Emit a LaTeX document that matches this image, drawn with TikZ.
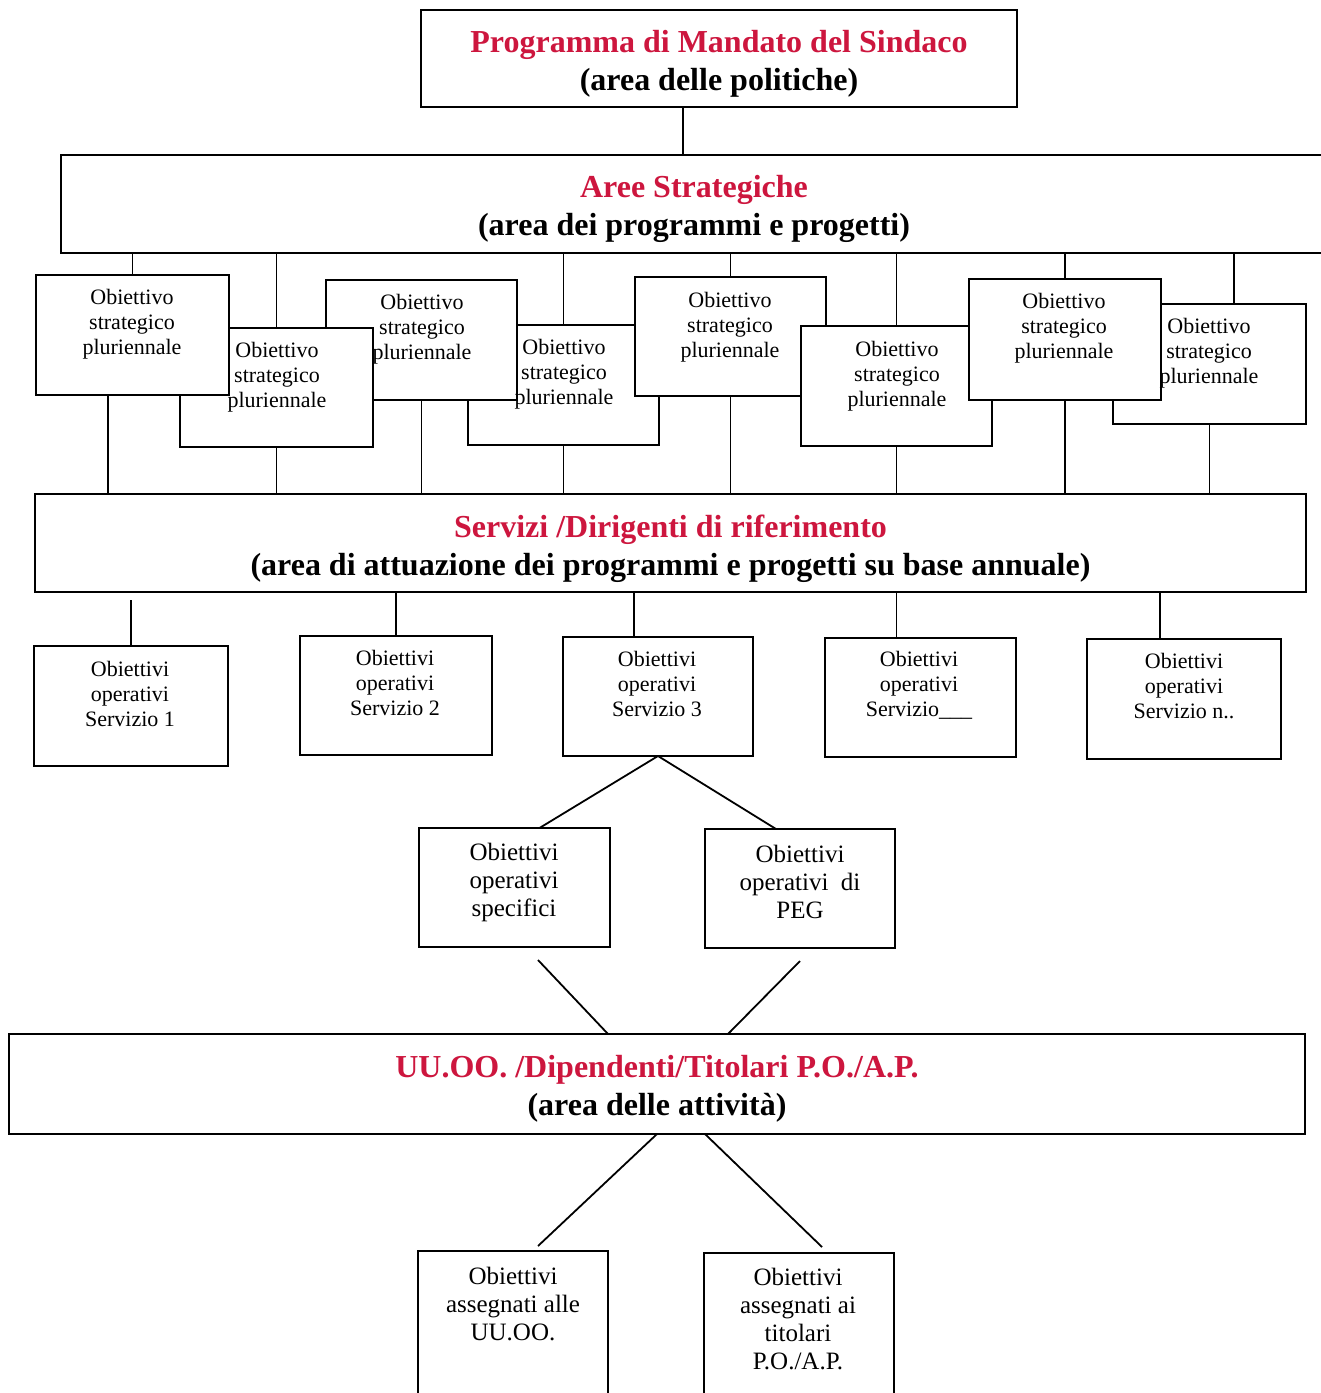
\documentclass[tikz,border=0pt]{standalone}
\usepackage{fontspec}
\setmainfont{Liberation Serif}
\definecolor{hdred}{RGB}{205,22,62}
\newcommand\mkbox[6]{\node[#1, anchor=north west, minimum width={(#5-#3)*0.5pt}, minimum height={(#6-#4)*0.5pt}] (#2) at (#3,#4) {};}
\begin{document}
\begin{tikzpicture}[x=0.5pt,y=-0.5pt,
  bx/.style={draw=black, fill=white, line width=1.2pt, inner sep=0pt, outer sep=0pt},
  hbx/.style={draw=black, fill=white, line width=1.4pt, inner sep=0pt, outer sep=0pt},
  htext/.style={align=center, inner sep=0pt, font=\fontsize{16}{19}\selectfont\bfseries},
  stext/.style={align=center, inner sep=0pt, font=\fontsize{11}{12.5}\selectfont},
  ptext/.style={align=center, inner sep=0pt, font=\fontsize{12.5}{14}\selectfont},
  ln/.style={line width=0.9pt}]
\useasboundingbox (0,0) rectangle (1321,1393);
\clip (0,0) rectangle (1321,1393);
% headers
\mkbox{hbx}{top}{421}{10}{1017}{107}
\mkbox{hbx}{aree}{61}{155}{1327}{253}
\mkbox{hbx}{serv}{35}{494}{1306}{592}
\mkbox{hbx}{uu}{9}{1034}{1305}{1134}
\node[htext] (topt) at ([yshift=-2.5pt]top.center) {\textcolor{hdred}{Programma di Mandato del Sindaco}\\(area delle politiche)};
\node[htext] (areet) at ([yshift=-2.5pt]aree.center) {\textcolor{hdred}{Aree Strategiche}\\(area dei programmi e progetti)};
\node[htext] (servt) at ([yshift=-2.75pt]serv.center) {\textcolor{hdred}{Servizi /Dirigenti di riferimento}\\(area di attuazione dei programmi e progetti su base annuale)};
\node[htext] (uut) at ([yshift=-2.5pt]uu.center) {\textcolor{hdred}{UU.OO. /Dipendenti/Titolari P.O./A.P.}\\(area delle attività)};
\draw[ln] ([xshift=-18pt]top.south) -- ([xshift=-18pt]top.south |- aree.north);
% strategic boxes (drawing order gives the overlaps)
\mkbox{bx}{s4}{468}{325}{659}{445}
\mkbox{bx}{s8}{1113}{304}{1306}{424}
\mkbox{bx}{s3}{326}{280}{517}{400}
\mkbox{bx}{s2}{180}{328}{373}{447}
\mkbox{bx}{s1}{36}{275}{229}{395}
\mkbox{bx}{s5}{635}{277}{826}{396}
\mkbox{bx}{s6}{801}{326}{992}{446}
\mkbox{bx}{s7}{969}{279}{1161}{400}
\node[stext] (s1t) at (132,324) {Obiettivo\\strategico\\pluriennale};
\node[stext] (s2t) at (277,377) {Obiettivo\\strategico\\pluriennale};
\node[stext] (s3t) at (422,329) {Obiettivo\\strategico\\pluriennale};
\node[stext] (s4t) at (564,374) {Obiettivo\\strategico\\pluriennale};
\node[stext] (s5t) at (730,327) {Obiettivo\\strategico\\pluriennale};
\node[stext] (s6t) at (897,376) {Obiettivo\\strategico\\pluriennale};
\node[stext] (s7t) at (1064,328) {Obiettivo\\strategico\\pluriennale};
\node[stext] (s8t) at (1209,353) {Obiettivo\\strategico\\pluriennale};
% connectors Aree -> strategic
\draw[ln] (s1.north) -- (s1.north |- aree.south);
\draw[ln] (s2.north) -- (s2.north |- aree.south);
\draw[ln] (s4.north) -- (s4.north |- aree.south);
\draw[ln] (s5.north) -- (s5.north |- aree.south);
\draw[ln] (s6.north) -- (s6.north |- aree.south);
\draw[ln] (s7.north) -- (s7.north |- aree.south);
\draw[ln] ([xshift=12.25pt]s8.north) -- ([xshift=12.25pt]s8.north |- aree.south);
% connectors strategic -> Servizi
\draw[ln] ([xshift=-12.25pt]s1.south) -- ([xshift=-12.25pt]s1.south |- serv.north);
\draw[ln] (s2.south) -- (s2.south |- serv.north);
\draw[ln] (s3.south) -- (s3.south |- serv.north);
\draw[ln] (s4.south) -- (s4.south |- serv.north);
\draw[ln] (s5.south) -- (s5.south |- serv.north);
\draw[ln] (s6.south) -- (s6.south |- serv.north);
\draw[ln] (s7.south) -- (s7.south |- serv.north);
\draw[ln] (s8.south) -- (s8.south |- serv.north);
% operative boxes
\mkbox{bx}{o1}{34}{646}{228}{766}
\mkbox{bx}{o2}{300}{636}{492}{755}
\mkbox{bx}{o3}{563}{637}{753}{756}
\mkbox{bx}{o4}{825}{638}{1016}{757}
\mkbox{bx}{o5}{1087}{639}{1281}{759}
\node[stext] (o1t) at (130,694) {Obiettivi\\operativi\\Servizio 1};
\node[stext] (o2t) at (395,683) {Obiettivi\\operativi\\Servizio 2};
\node[stext] (o3t) at (657,684) {Obiettivi\\operativi\\Servizio 3};
\node[stext] (o4t) at (919,685) {Obiettivi\\operativi\\Servizio\_\_\_};
\node[stext] (o5t) at (1184,686) {Obiettivi\\operativi\\Servizio n..};
\coordinate (o1c) at (131,600);
\draw[ln] (o1.north) -- (o1c);
\draw[ln] (o2.north) -- (o2.north |- serv.south);
\draw[ln] ([xshift=-12pt]o3.north) -- ([xshift=-12pt]o3.north |- serv.south);
\draw[ln] ([xshift=-12pt]o4.north) -- ([xshift=-12pt]o4.north |- serv.south);
\draw[ln] ([xshift=-12pt]o5.north) -- ([xshift=-12pt]o5.north |- serv.south);
% specific boxes
\mkbox{bx}{p1}{419}{828}{610}{947}
\mkbox{bx}{p2}{705}{829}{895}{948}
\node[ptext] (p1t) at (514,882) {Obiettivi\\operativi\\specifici};
\node[ptext] (p2t) at (800,882) {Obiettivi\\operativi\ \ di\\PEG};
\draw[ln] (o3.south) -- ([xshift=12.5pt]p1.north);
\draw[ln] (o3.south) -- ([xshift=-12pt]p2.north);
\coordinate (a1) at (538,960);
\coordinate (a2) at (800,961);
\draw[ln] (a1) -- (uu.north -| 608,0);
\draw[ln] (a2) -- (uu.north -| 728,0);
% bottom boxes (open below the page)
\mkbox{bx}{b1}{418}{1251}{608}{1420}
\mkbox{bx}{b2}{704}{1253}{894}{1420}
\node[ptext] (b1t) at (513,1304) {Obiettivi\\assegnati alle\\UU.OO.};
\node[ptext] (b2t) at (798,1319) {Obiettivi\\assegnati ai\\titolari\\P.O./A.P.};
\coordinate (e1) at (538,1246);
\coordinate (e2) at (822,1247);
\draw[ln] (uu.south) -- (e1);
\draw[ln] ([xshift=24pt]uu.south) -- (e2);
\end{tikzpicture}
\end{document}
